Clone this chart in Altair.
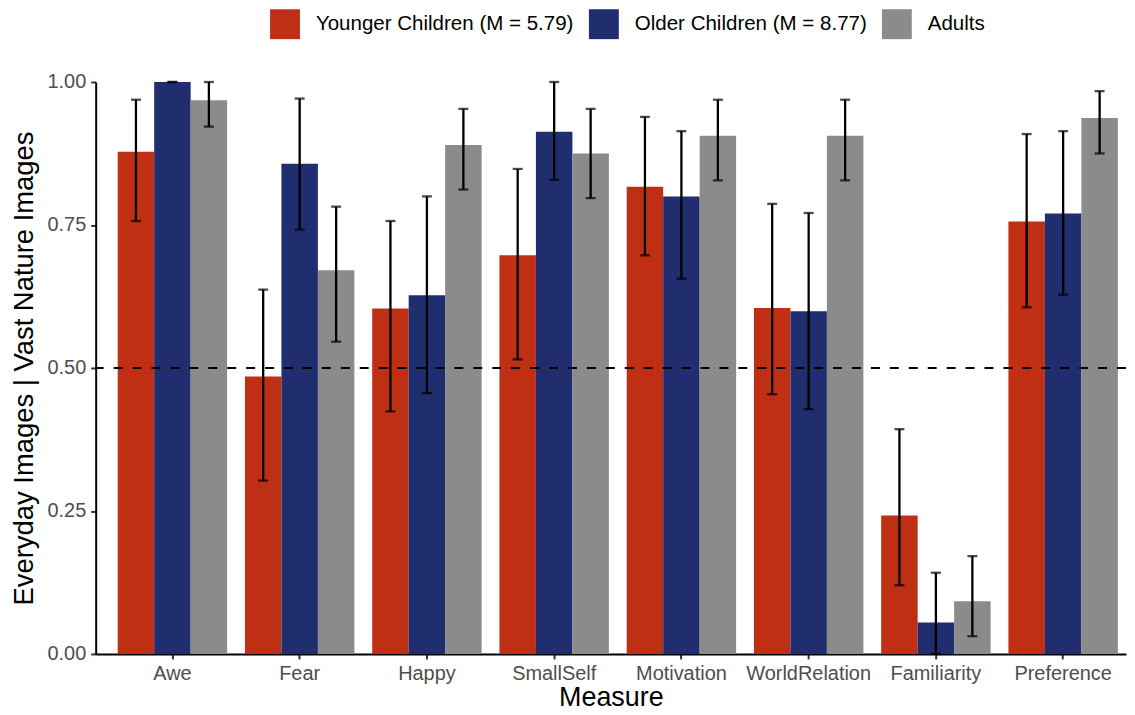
import altair as alt
import pandas as pd

measures = ["Awe", "Fear", "Happy", "SmallSelf", "Motivation", "WorldRelation", "Familiarity", "Preference"]
groups = ["Younger Children (M = 5.79)", "Older Children (M = 8.77)", "Adults"]
colors = ["#BE2F14", "#202D6F", "#8B8B8B"]

younger_mean = [0.878, 0.485, 0.604, 0.697, 0.817, 0.605, 0.242, 0.756]
younger_lo = [0.757, 0.303, 0.424, 0.515, 0.697, 0.454, 0.120, 0.606]
younger_hi = [0.969, 0.637, 0.757, 0.848, 0.939, 0.787, 0.393, 0.909]

older_mean = [1.000, 0.857, 0.627, 0.913, 0.800, 0.599, 0.055, 0.770]
older_lo = [1.000, 0.742, 0.456, 0.829, 0.656, 0.428, 0.000, 0.628]
older_hi = [1.000, 0.971, 0.800, 1.000, 0.914, 0.771, 0.142, 0.914]

adult_mean = [0.968, 0.671, 0.890, 0.875, 0.906, 0.906, 0.092, 0.937]
adult_lo = [0.922, 0.546, 0.812, 0.797, 0.828, 0.828, 0.031, 0.875]
adult_hi = [1.000, 0.782, 0.953, 0.953, 0.969, 0.969, 0.171, 0.984]

chance = [0.5]

rows = []
for g, m, lo, hi in zip(groups,
                        [younger_mean, older_mean, adult_mean],
                        [younger_lo, older_lo, adult_lo],
                        [younger_hi, older_hi, adult_hi]):
    for i, meas in enumerate(measures):
        rows.append({"Measure": meas, "Group": g, "mean": m[i], "lo": lo[i], "hi": hi[i]})
df = pd.DataFrame(rows)

FONT = "Liberation Sans"

xenc = alt.X(
    "Measure:N", sort=measures,
    scale=alt.Scale(paddingInner=0.14, paddingOuter=0.1185, align=0.73),
    axis=alt.Axis(title="Measure", labelAngle=0, labelFontSize=20, labelColor="#4D4D4D",
                  labelPadding=5, tickSize=5, tickWidth=2, tickColor="#333333",
                  domainColor="black", domainWidth=2, titleFontSize=27,
                  titleFontWeight="normal", titleColor="black", titlePadding=1),
)
xoff = alt.XOffset("Group:N", sort=groups, scale=alt.Scale(paddingInner=0, paddingOuter=0))
yscale = alt.Scale(domain=[0, 1], nice=False, zero=True)

base = alt.Chart(df).encode(x=xenc, xOffset=xoff)

bars = base.mark_bar().encode(
    y=alt.Y("mean:Q", scale=yscale,
            axis=alt.Axis(title="Everyday Images | Vast Nature Images", values=[0, 0.25, 0.5, 0.75, 1.0],
                          format=".2f", grid=False, labelFontSize=20, labelColor="#4D4D4D",
                          labelPadding=5, tickSize=5, tickWidth=2, tickColor="#333333",
                          domainColor="black", domainWidth=2, titleFontSize=27.5,
                          titleFontWeight="normal", titleColor="black", titlePadding=8)),
    color=alt.Color("Group:N", sort=groups,
                    scale=alt.Scale(domain=groups, range=colors),
                    legend=alt.Legend(orient="none", legendX=175, legendY=-73, direction="horizontal",
                                      title=None, symbolType="square", symbolSize=900,
                                      symbolStrokeWidth=0, symbolOpacity=1,
                                      labelFontSize=20.6, labelColor="black", labelOffset=16,
                                      labelLimit=0, columnPadding=15, padding=0)),
)

hline = alt.Chart(pd.DataFrame({"y": chance})).mark_rule(
    color="black", strokeWidth=2, strokeDash=[9, 10]
).encode(y=alt.Y("y:Q", scale=yscale))

rules = base.mark_rule(color="black", strokeWidth=2.3).encode(
    y=alt.Y("lo:Q", scale=yscale), y2="hi:Q")
cap_hi = base.mark_tick(color="black", size=10, thickness=2.3).encode(y=alt.Y("hi:Q", scale=yscale))
cap_lo = base.mark_tick(color="black", size=10, thickness=2.3).encode(y=alt.Y("lo:Q", scale=yscale))

chart = alt.layer(bars, hline, rules, cap_hi, cap_lo).properties(
    width=1034, height=574, padding={"left": 3, "right": 0, "top": 0, "bottom": 0}
).configure(font=FONT).configure_view(strokeWidth=0)

chart.save("out.html", embed_options={"renderer": "svg", "actions": False})
